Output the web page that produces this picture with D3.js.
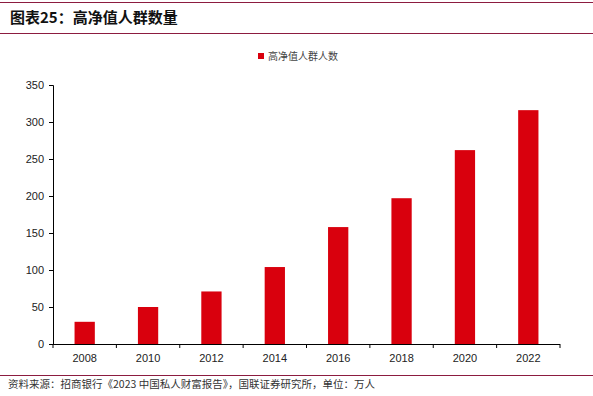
<!DOCTYPE html>
<html lang="zh">
<head>
<meta charset="UTF-8">
<script src="https://d3js.org/d3.v7.min.js"></script>
<style>
  body { margin: 0; background: #fff; }
  svg { display: block; }
</style>
</head>
<body>
<svg width="593" height="396"></svg>
<script>
// data
const years = ["2008", "2010", "2012", "2014", "2016", "2018", "2020", "2022"];
const people = [30, 50, 71, 104, 158, 197, 262, 316];   // 万人
const yTicks = [0, 50, 100, 150, 200, 250, 300, 350];
const title = "图表25：高净值人群数量";
const legendLabel = "高净值人群人数";
const source = "资料来源：招商银行《2023 中国私人财富报告》，国联证券研究所，单位：万人";

const svg = d3.select("svg");
const W = 593;
const ruleColor = "#8c1c40";
const barColor = "#d9000d";
const cjk = "'Noto Sans CJK SC', sans-serif";
const latin = "'Liberation Sans', Arial, sans-serif";

// header rules + title
svg.append("line").attr("x1", 0).attr("x2", W).attr("y1", 2.5).attr("y2", 2.5)
  .attr("stroke", ruleColor).attr("stroke-width", 1);
svg.append("line").attr("x1", 0).attr("x2", W).attr("y1", 33.5).attr("y2", 33.5)
  .attr("stroke", ruleColor).attr("stroke-width", 1);
svg.append("text").attr("x", 10).attr("y", 23)
  .attr("font-family", cjk).attr("font-weight", "bold").attr("font-size", 15)
  .attr("fill", "#111").text(title);

// plot area
const x0 = 53, x1 = 560, yTop = 85, yBot = 344;
const x = d3.scaleBand().domain(years).range([x0, x1]).paddingInner(0.68).paddingOuter(0.34);
const y = d3.scaleLinear().domain([0, 350]).range([yBot, yTop]);

svg.append("g").selectAll("rect").data(years).join("rect")
  .attr("x", d => x(d))
  .attr("width", x.bandwidth())
  .attr("y", (d, i) => y(people[i]))
  .attr("height", (d, i) => yBot - y(people[i]))
  .attr("fill", barColor);

// y axis
const yAxis = svg.append("g").attr("transform", `translate(${x0},0)`)
  .call(d3.axisLeft(y).tickValues(yTicks).tickSize(4).tickPadding(5).tickFormat(d3.format("d")));
yAxis.select(".domain").attr("stroke", "#000");
yAxis.selectAll(".tick line").attr("stroke", "#000");
yAxis.selectAll("text").attr("font-family", latin).attr("font-size", 11).attr("fill", "#222");

// x axis: ticks at category boundaries
const step = (x1 - x0) / years.length;
const xg = svg.append("g");
xg.append("line").attr("x1", x0).attr("x2", x1).attr("y1", yBot + 0.5).attr("y2", yBot + 0.5)
  .attr("stroke", "#000");
xg.selectAll("line.tk").data(d3.range(years.length + 1)).join("line")
  .attr("class", "tk")
  .attr("x1", i => x0 + i * step).attr("x2", i => x0 + i * step)
  .attr("y1", yBot).attr("y2", yBot + 4).attr("stroke", "#000");
xg.selectAll("text").data(years).join("text")
  .attr("x", d => x(d) + x.bandwidth() / 2)
  .attr("y", yBot + 18)
  .attr("text-anchor", "middle")
  .attr("font-family", latin).attr("font-size", 11).attr("fill", "#222")
  .text(d => d);

// legend
svg.append("rect").attr("x", 258).attr("y", 53).attr("width", 6).attr("height", 6).attr("fill", barColor);
svg.append("text").attr("x", 268).attr("y", 60)
  .attr("font-family", cjk).attr("font-size", 10).attr("fill", "#444").text(legendLabel);

// footer
svg.append("line").attr("x1", 0).attr("x2", W).attr("y1", 375.5).attr("y2", 375.5)
  .attr("stroke", ruleColor).attr("stroke-width", 1);
svg.append("text").attr("x", 8).attr("y", 388)
  .attr("font-family", cjk).attr("font-size", 10.5).attr("fill", "#333").text(source);
</script>
</body>
</html>
